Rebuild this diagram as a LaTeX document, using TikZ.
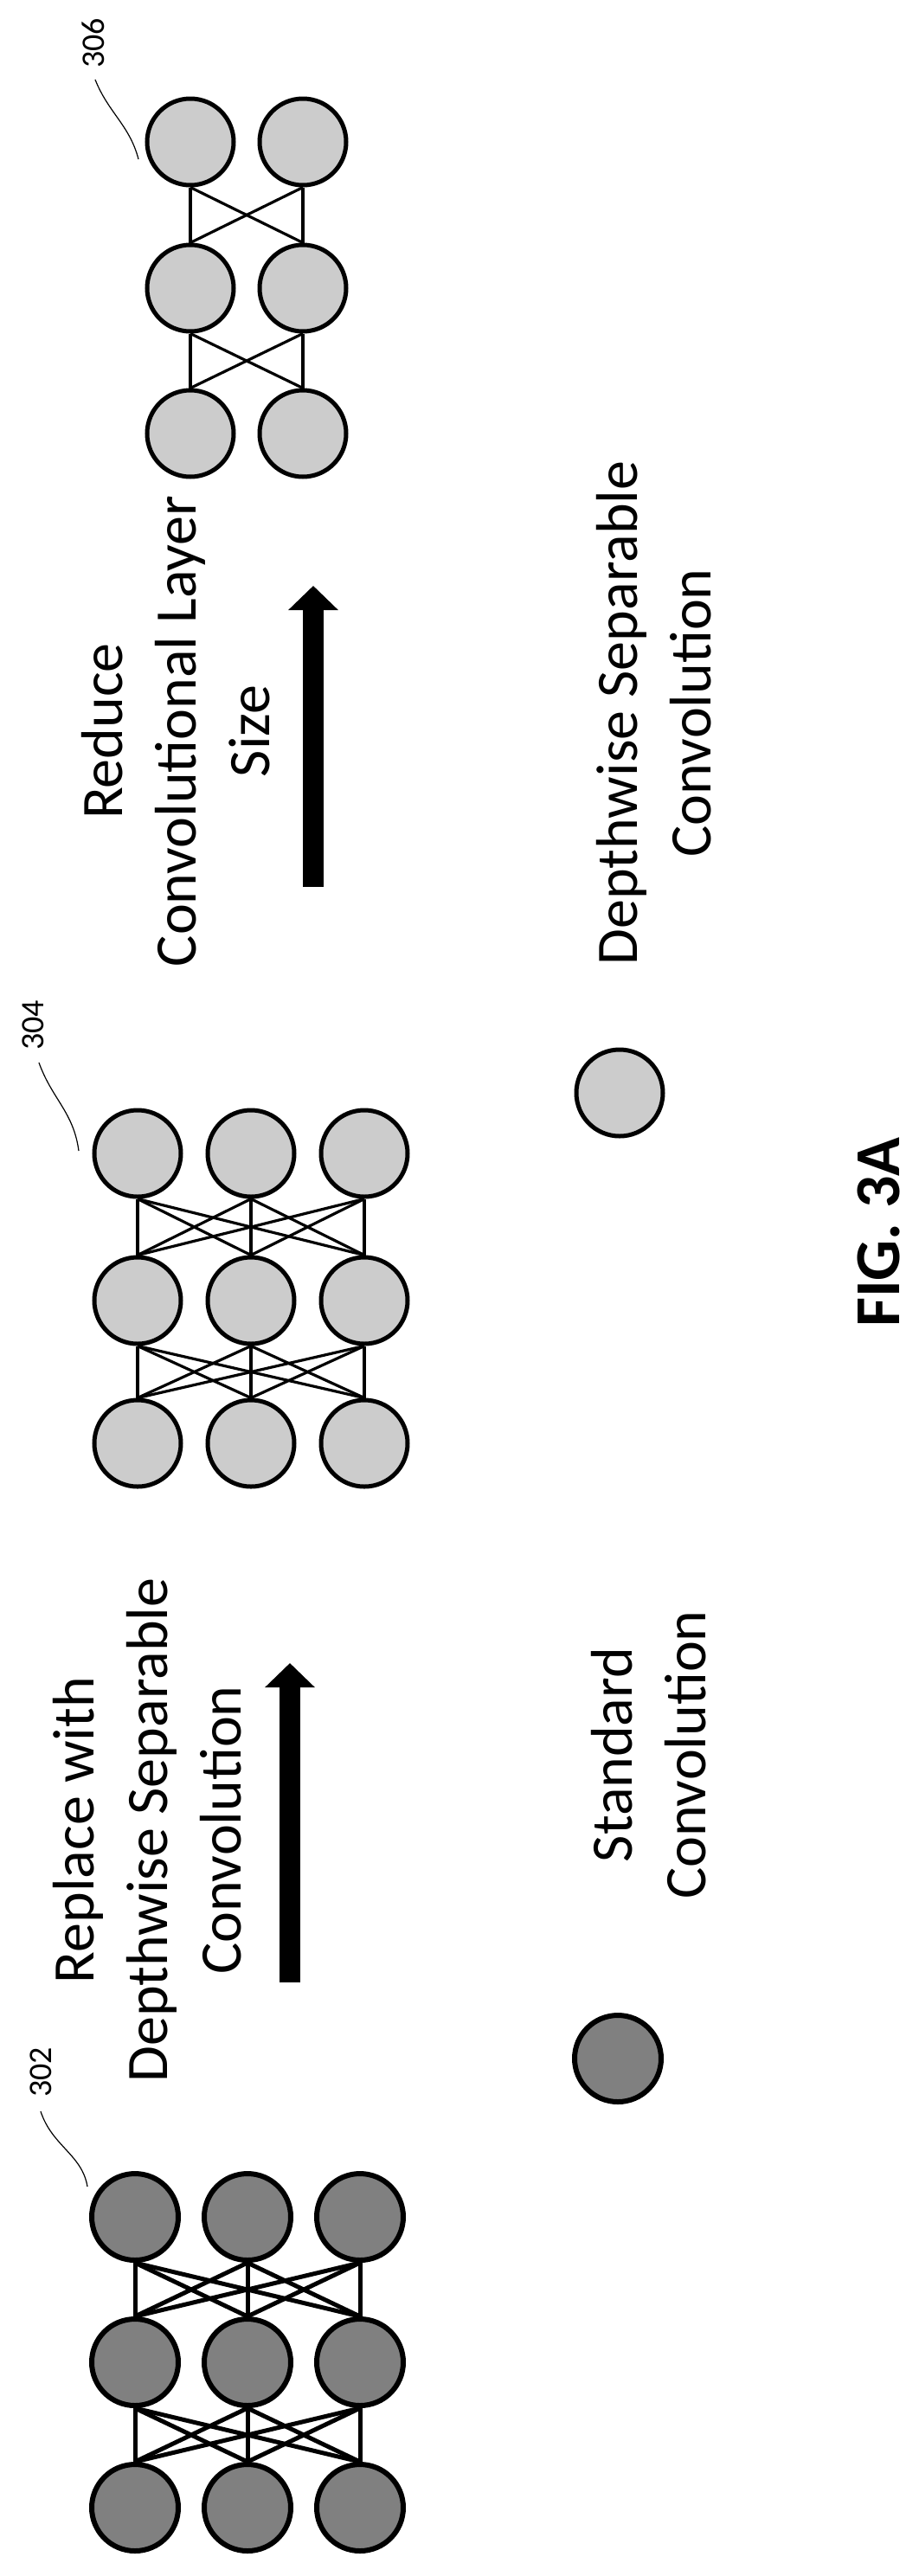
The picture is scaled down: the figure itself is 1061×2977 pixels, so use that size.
\documentclass[tikz,border=0pt]{standalone}
\usepackage{fontspec}
\setmainfont{Carlito}
\usetikzlibrary{arrows.meta}
\begin{document}
\begin{tikzpicture}[x=0.5pt,y=-0.5pt,
  darkn/.style={circle,draw=black,line width=3pt,fill=black!50,minimum size=50pt,inner sep=0pt},
  lightn/.style={circle,draw=black,line width=2.5pt,fill=black!20,minimum size=50pt,inner sep=0pt},
  lbl/.style={rotate=90,font=\fontsize{34}{42.5}\selectfont,align=center},
  num/.style={rotate=90,font=\fontsize{19}{22}\selectfont},
  leader/.style={line width=0.6pt},
  bigarrow/.style={-{Triangle[width=28pt,length=14pt]},line width=12pt,draw=black,fill=black}]
\useasboundingbox (0,0) rectangle (1061,2977);
% group 302
\foreach \c/\x in {1/156,2/286,3/416}{
  \foreach \r/\y in {1/2562,2/2730,3/2898}{
    \node[darkn] (a\r\c) at (\x,\y) {};
  }}
\foreach \i in {1,2,3}{\foreach \j in {1,2,3}{
  \draw[line width=2.5pt] (a1\i.south) -- (a2\j.north);
  \draw[line width=2.5pt] (a2\i.south) -- (a3\j.north);}}
% group 304
\foreach \c/\x in {1/159,2/290,3/421}{
  \foreach \r/\y in {1/1333,2/1503,3/1668}{
    \node[lightn] (b\r\c) at (\x,\y) {};
  }}
\foreach \i in {1,2,3}{\foreach \j in {1,2,3}{
  \draw[line width=1.6pt] (b1\i.south) -- (b2\j.north);
  \draw[line width=1.6pt] (b2\i.south) -- (b3\j.north);}}
% group 306
\foreach \c/\x in {1/220,2/350}{
  \foreach \r/\y in {1/164,2/333,3/501}{
    \node[lightn] (c\r\c) at (\x,\y) {};
  }}
\foreach \i in {1,2}{\foreach \j in {1,2}{
  \draw[line width=1.6pt] (c1\i.south) -- (c2\j.north);
  \draw[line width=1.6pt] (c2\i.south) -- (c3\j.north);}}
% reference numerals
\node[num] (n302) at (47,2395) {302};
\coordinate (e302) at (101,2527);
\draw[leader] (47,2440) .. controls (60,2480) and (95,2490) .. (e302);
\node[num] (n304) at (38,1185) {304};
\coordinate (e304) at (91,1330);
\draw[leader] (45,1228) .. controls (60,1270) and (85,1285) .. (e304);
\node[num] (n306) at (108,50) {306};
\coordinate (e306) at (160,184);
\draw[leader] (110,92) .. controls (125,130) and (150,145) .. (e306);
% texts
\node[lbl] (t1) at (170,2115) {Replace with\\Depthwise Separable\\Convolution};
\node[lbl] (t2) at (203,845) {Reduce\\Convolutional Layer\\Size};
\node[lbl] (t3) at (750,2028) {Standard\\Convolution};
\node[lbl] (t4) at (756,824) {Depthwise Separable\\Convolution};
\node[rotate=90,font=\bfseries\fontsize{37}{44}\selectfont] (fig) at (1015,1424) {FIG. 3A};
% arrows
\coordinate (a1s) at (335,2291); \coordinate (a1e) at (335,1922);
\draw[bigarrow] (a1s) -- (a1e);
\coordinate (a2s) at (362,1025); \coordinate (a2e) at (362,677);
\draw[bigarrow] (a2s) -- (a2e);
% legend
\node[darkn] (ld) at (714,2379) {};
\node[lightn] (ll) at (716,1263) {};
\end{tikzpicture}
\end{document}
